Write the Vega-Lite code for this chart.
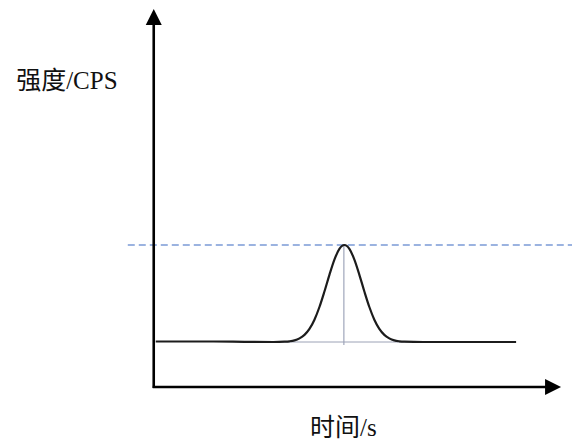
{
  "$schema": "https://vega.github.io/schema/vega-lite/v6.json",
  "width": 573,
  "height": 442,
  "autosize": {"type": "fit", "contains": "padding"},
  "padding": 0,
  "background": "white",
  "config": {"view": {"stroke": null}},
  "datasets": {
    "dash": [{"t": -26, "t2": 419, "I": 142}],
    "vline": [{"t": 190.5, "I": 142, "I2": 42}],
    "hline": [{"t": 86, "t2": 293, "I": 45}],
    "axes": [
      {"t": 0, "t2": 0, "I": -1, "I2": 362},
      {"t": -1, "t2": 394, "I": 0, "I2": 0}
    ],
    "uparrow": [{"t": 0, "I": 370}],
    "rightarrow": [{"t": 400, "I": 0}],
    "labels": [
      {"t": -87, "I": 298, "label": "强度/CPS"},
      {"t": 190, "I": -49, "label": "时间/s"}
    ],
    "curve": [
      {"t": 2, "I": 45.5},
      {"t": 60, "I": 45.5},
      {"t": 91, "I": 45.2},
      {"t": 120, "I": 45},
      {"t": 131, "I": 45.3},
      {"t": 136, "I": 45.7},
      {"t": 141, "I": 46.6},
      {"t": 146, "I": 48.6},
      {"t": 151, "I": 52.1},
      {"t": 156, "I": 58.1},
      {"t": 161, "I": 67.3},
      {"t": 166, "I": 80.0},
      {"t": 171, "I": 95.5},
      {"t": 176, "I": 112.2},
      {"t": 181, "I": 127.4},
      {"t": 186, "I": 138.1},
      {"t": 188.5, "I": 141.0},
      {"t": 191, "I": 142},
      {"t": 193.5, "I": 141.0},
      {"t": 196, "I": 138.1},
      {"t": 201, "I": 127.4},
      {"t": 206, "I": 112.2},
      {"t": 211, "I": 95.5},
      {"t": 216, "I": 80.0},
      {"t": 221, "I": 67.3},
      {"t": 226, "I": 58.1},
      {"t": 231, "I": 52.1},
      {"t": 236, "I": 48.6},
      {"t": 241, "I": 46.6},
      {"t": 246, "I": 45.7},
      {"t": 251, "I": 45.3},
      {"t": 270, "I": 45},
      {"t": 363, "I": 45}
    ]
  },
  "layer": [
    {
      "data": {"name": "dash"},
      "mark": {"type": "rule", "color": "#7b9bd6", "strokeWidth": 1.6, "strokeDash": [7, 4]},
      "encoding": {
        "x": {"field": "t", "type": "quantitative", "scale": {"domain": [-154, 419], "nice": false, "zero": false}, "axis": null},
        "x2": {"field": "t2"},
        "y": {"field": "I", "type": "quantitative", "scale": {"domain": [-55, 387], "nice": false, "zero": false}, "axis": null}
      }
    },
    {
      "data": {"name": "vline"},
      "mark": {"type": "rule", "color": "#8c94ad", "strokeWidth": 1},
      "encoding": {
        "x": {"field": "t", "type": "quantitative"},
        "y": {"field": "I", "type": "quantitative"},
        "y2": {"field": "I2"}
      }
    },
    {
      "data": {"name": "hline"},
      "mark": {"type": "rule", "color": "#9ca2b6", "strokeWidth": 1},
      "encoding": {
        "x": {"field": "t", "type": "quantitative"},
        "x2": {"field": "t2"},
        "y": {"field": "I", "type": "quantitative"}
      }
    },
    {
      "data": {"name": "curve"},
      "mark": {"type": "line", "color": "#1c1c1c", "strokeWidth": 2.2, "interpolate": "monotone"},
      "encoding": {
        "x": {"field": "t", "type": "quantitative"},
        "y": {"field": "I", "type": "quantitative"}
      }
    },
    {
      "data": {"name": "axes"},
      "mark": {"type": "rule", "color": "black", "strokeWidth": 2.6},
      "encoding": {
        "x": {"field": "t", "type": "quantitative"},
        "x2": {"field": "t2"},
        "y": {"field": "I", "type": "quantitative"},
        "y2": {"field": "I2"}
      }
    },
    {
      "data": {"name": "uparrow"},
      "mark": {"type": "point", "shape": "M0,-1L1,1L-1,1Z", "filled": true, "color": "black", "opacity": 1, "size": 256},
      "encoding": {
        "x": {"field": "t", "type": "quantitative"},
        "y": {"field": "I", "type": "quantitative"}
      }
    },
    {
      "data": {"name": "rightarrow"},
      "mark": {"type": "point", "shape": "M1,0L-1,-1L-1,1Z", "filled": true, "color": "black", "opacity": 1, "size": 256},
      "encoding": {
        "x": {"field": "t", "type": "quantitative"},
        "y": {"field": "I", "type": "quantitative"}
      }
    },
    {
      "data": {"name": "labels"},
      "mark": {"type": "text", "align": "center", "baseline": "alphabetic", "font": "Liberation Serif, Noto Sans CJK SC", "fontSize": 25, "color": "#111111"},
      "encoding": {
        "x": {"field": "t", "type": "quantitative"},
        "y": {"field": "I", "type": "quantitative"},
        "text": {"field": "label"}
      }
    }
  ]
}
